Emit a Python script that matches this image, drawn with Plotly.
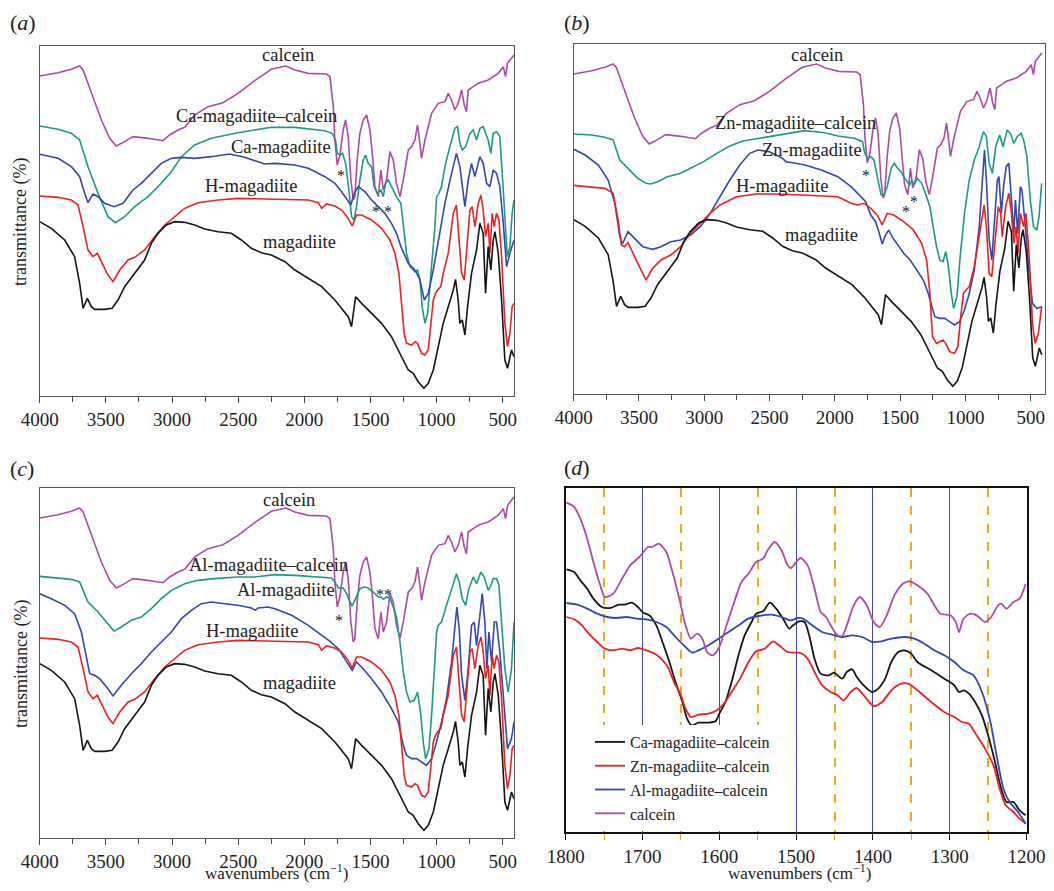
import plotly.graph_objects as go

# The page body has an 8 px margin; the figure is sized so it fits the 1054x891 window.
PAGE_W, PAGE_H, BODY = 1054, 891, 8
W, H = PAGE_W - 2 * BODY, PAGE_H - 2 * BODY
SERIF = "Liberation Serif, Times New Roman, serif"

# ---------------- Data (transmittance in arbitrary units) ----------------
# Reference spectra (same in panels a, b, c)
CALCEIN_WN = [4000, 3861, 3761, 3698, 3672, 3610, 3534, 3471, 3421, 3358, 3295, 3181, 3068, 3018, 2955, 2904,
              2829, 2728, 2615, 2501, 2375, 2249, 2140, 2071, 1970, 1832, 1806, 1781, 1769, 1751, 1731, 1706,
              1688, 1668, 1648, 1630, 1618, 1600, 1580, 1555, 1529, 1504, 1486, 1466, 1441, 1421, 1403, 1378,
              1353, 1328, 1303, 1277, 1252, 1214, 1189, 1164, 1144, 1126, 1114, 1088, 1038, 988, 937, 912,
              887, 862, 837, 811, 791, 774, 761, 723, 685, 610, 534, 496, 479, 464, 429, 415]
CALCEIN_T = [960, 970, 980, 990, 978, 908, 828, 773, 750, 763, 778, 773, 766, 783, 798, 806,
             843, 868, 880, 908, 946, 980, 990, 978, 968, 966, 958, 868, 768, 693, 723, 798,
             828, 778, 648, 588, 598, 708, 788, 828, 843, 798, 728, 628, 598, 678, 618, 648,
             733, 708, 638, 598, 648, 738, 748, 768, 813, 758, 713, 768, 848, 878, 883, 908,
             888, 858, 878, 918, 873, 853, 918, 928, 938, 948, 968, 988, 958, 998, 1018, 1023]

MAG_WN = [4000, 3912, 3811, 3736, 3698, 3672, 3640, 3610, 3584, 3509, 3453, 3408, 3358, 3282, 3207, 3156,
          3106, 3043, 2980, 2904, 2829, 2753, 2652, 2552, 2476, 2400, 2325, 2249, 2146, 2071, 1970, 1869,
          1769, 1706, 1668, 1643, 1623, 1612, 1567, 1492, 1416, 1341, 1277, 1240, 1214, 1177, 1139, 1096,
          1063, 1025, 988, 950, 912, 874, 857, 837, 824, 806, 786, 766, 736, 698, 673, 648,
          630, 610, 590, 572, 559, 534, 509, 484, 464, 434, 415]
MAG_T = [523, 503, 468, 418, 338, 263, 293, 268, 260, 260, 263, 288, 328, 368, 408, 458,
         488, 513, 523, 521, 513, 501, 493, 488, 468, 443, 430, 423, 403, 378, 353, 328,
         288, 258, 238, 208, 268, 298, 278, 248, 218, 178, 128, 98, 78, 68, 43, 23,
         38, 78, 148, 218, 268, 318, 350, 288, 218, 228, 183, 268, 368, 438, 518, 488,
         308, 448, 378, 468, 493, 428, 288, 108, 83, 138, 118]

HMAG_WN = [4000, 3861, 3761, 3710, 3672, 3635, 3597, 3564, 3534, 3484, 3446, 3395, 3332, 3282, 3207, 3131,
           3055, 2980, 2904, 2804, 2652, 2501, 2249, 1970, 1894, 1869, 1832, 1769, 1718, 1668, 1638, 1605,
           1567, 1492, 1416, 1353, 1315, 1285, 1265, 1245, 1227, 1189, 1164, 1144, 1114, 1088, 1063, 1043,
           1025, 1008, 993, 968, 950, 912, 874, 850, 832, 811, 791, 774, 748, 731, 711, 685,
           665, 648, 630, 610, 597, 580, 565, 547, 529, 509, 484, 464, 446, 429, 415]
HMAG_T = [600, 596, 588, 573, 508, 438, 418, 428, 403, 363, 343, 378, 408, 416, 438, 478,
          513, 538, 563, 580, 588, 593, 590, 588, 580, 563, 576, 570, 558, 533, 510, 543,
          543, 528, 503, 468, 428, 368, 278, 188, 158, 153, 163, 158, 128, 123, 138, 218,
          288, 308, 318, 328, 368, 428, 548, 573, 488, 368, 348, 428, 558, 568, 508, 578,
          603, 558, 478, 518, 428, 548, 508, 548, 528, 418, 218, 148, 188, 268, 278]

# Panel (a)
CA_CAL_WN = [4000, 3861, 3761, 3698, 3635, 3559, 3484, 3428, 3358, 3282, 3181, 3081, 3005, 2929, 2829, 2703,
             2501, 2249, 2071, 1844, 1789, 1764, 1751, 1731, 1711, 1688, 1663, 1643, 1625, 1605, 1580, 1555,
             1537, 1517, 1492, 1472, 1446, 1421, 1403, 1386, 1366, 1341, 1303, 1270, 1252, 1227, 1202, 1164,
             1144, 1126, 1109, 1088, 1068, 1043, 1013, 1000, 983, 963, 937, 900, 862, 842, 824, 806,
             781, 748, 723, 698, 673, 648, 610, 590, 572, 547, 522, 496, 466, 446, 429, 415]
CA_CAL_T = [810, 800, 788, 768, 688, 608, 538, 520, 538, 568, 598, 638, 673, 718, 753, 773,
            790, 806, 806, 796, 788, 768, 728, 723, 728, 698, 618, 538, 528, 568, 648, 708,
            723, 698, 688, 628, 608, 618, 598, 638, 648, 628, 598, 578, 508, 428, 388, 373,
            378, 348, 268, 218, 248, 368, 508, 598, 608, 628, 688, 748, 803, 808, 758, 738,
            748, 788, 798, 768, 803, 808, 768, 728, 788, 793, 778, 618, 418, 448, 548, 588]

CA_MAG_WN = [4000, 3861, 3761, 3698, 3660, 3635, 3597, 3559, 3509, 3438, 3370, 3295, 3232, 3156, 3081, 3005,
             2929, 2829, 2703, 2564, 2451, 2300, 2222, 2071, 1970, 1844, 1769, 1718, 1680, 1648, 1623, 1592,
             1542, 1492, 1441, 1391, 1341, 1303, 1270, 1240, 1214, 1164, 1126, 1093, 1063, 1025, 988, 937,
             887, 850, 824, 786, 761, 736, 711, 673, 648, 622, 597, 572, 547, 522, 496, 471, 446, 415]
CA_MAG_T = [725, 713, 688, 658, 608, 580, 606, 598, 578, 568, 578, 618, 638, 668, 698, 713,
            716, 713, 718, 726, 716, 696, 698, 693, 683, 658, 638, 613, 593, 573, 608, 628,
            613, 588, 568, 548, 518, 488, 448, 418, 398, 378, 348, 288, 308, 378, 458, 578,
            668, 728, 688, 568, 648, 698, 658, 718, 698, 638, 628, 678, 668, 628, 518, 388, 428, 468]

# Panel (b)
HMAG_B_WN = [4000, 3861, 3761, 3698, 3660, 3635, 3610, 3584, 3559, 3509, 3446, 3395, 3332, 3257, 3181, 3106,
             3030, 2955, 2879, 2753, 2602, 2451, 2249, 1977, 1876, 1826, 1776, 1725, 1675, 1637, 1599, 1549,
             1473, 1398, 1335, 1297, 1272, 1252, 1221, 1171, 1151, 1121, 1083, 1058, 1033, 1015, 995, 970,
             932, 894, 856, 839, 818, 798, 773, 748, 730, 718, 692, 667, 647, 629, 612, 597,
             579, 554, 536, 511, 486, 466, 441, 416]
HMAG_B_T = [626, 622, 617, 602, 522, 447, 442, 454, 432, 392, 342, 377, 402, 417, 442, 482,
            512, 542, 567, 592, 600, 600, 597, 592, 572, 567, 572, 557, 537, 507, 542, 537,
            517, 492, 452, 402, 302, 172, 152, 162, 152, 127, 122, 142, 242, 302, 312, 322,
            382, 482, 567, 502, 362, 352, 462, 562, 542, 472, 562, 602, 542, 452, 502, 422,
            542, 502, 542, 412, 212, 152, 182, 262]

ZN_CAL_WN = [4000, 3861, 3761, 3698, 3647, 3584, 3509, 3446, 3408, 3358, 3282, 3181, 3081, 3005, 2904, 2804,
             2703, 2552, 2375, 2229, 2078, 1977, 1851, 1788, 1771, 1750, 1725, 1700, 1670, 1645, 1624, 1599,
             1569, 1544, 1519, 1494, 1473, 1448, 1428, 1410, 1393, 1368, 1335, 1297, 1272, 1247, 1221, 1196,
             1171, 1151, 1133, 1108, 1090, 1065, 1040, 1007, 970, 932, 894, 862, 839, 818, 793, 768,
             738, 712, 680, 655, 629, 604, 574, 554, 529, 503, 478, 453, 436, 416]
ZN_CAL_T = [780, 777, 770, 762, 702, 677, 647, 632, 630, 637, 652, 662, 682, 697, 722, 744,
            759, 769, 780, 790, 784, 774, 767, 757, 722, 707, 712, 702, 642, 597, 597, 622,
            677, 692, 677, 667, 652, 637, 627, 642, 627, 647, 632, 592, 562, 502, 442, 402,
            397, 427, 392, 302, 257, 292, 412, 542, 642, 702, 742, 787, 772, 692, 662, 742,
            777, 742, 792, 782, 752, 772, 782, 762, 712, 582, 502, 492, 532, 632]

ZN_MAG_WN = [4000, 3912, 3811, 3736, 3685, 3647, 3627, 3584, 3534, 3471, 3395, 3332, 3257, 3181, 3106, 3030,
             2955, 2879, 2804, 2728, 2652, 2589, 2501, 2400, 2375, 2300, 2229, 2103, 1977, 1876, 1813, 1763,
             1725, 1688, 1663, 1637, 1612, 1587, 1562, 1524, 1473, 1423, 1373, 1322, 1285, 1259, 1234, 1196,
             1158, 1121, 1083, 1045, 1007, 970, 932, 894, 869, 854, 839, 818, 798, 780, 755, 743,
             725, 705, 687, 667, 647, 629, 617, 599, 579, 567, 541, 516, 486, 453, 416]
ZN_MAG_T = [734, 717, 687, 642, 572, 472, 450, 487, 467, 442, 434, 442, 457, 462, 477, 502,
            542, 592, 642, 687, 722, 732, 727, 707, 697, 692, 687, 672, 652, 622, 597, 577,
            537, 517, 487, 450, 477, 492, 472, 452, 422, 402, 372, 342, 302, 262, 232, 227,
            227, 217, 207, 217, 252, 302, 372, 502, 662, 732, 642, 462, 402, 502, 642, 652,
            542, 632, 682, 692, 582, 482, 582, 482, 622, 612, 502, 382, 272, 257, 262]

# Panel (c)
AL_CAL_WN = [4000, 3861, 3761, 3698, 3635, 3559, 3484, 3438, 3383, 3307, 3232, 3156, 3081, 3005, 2904, 2804,
             2678, 2501, 2375, 2222, 2071, 1920, 1794, 1769, 1743, 1706, 1680, 1655, 1638, 1612, 1580, 1547,
             1517, 1479, 1441, 1421, 1403, 1378, 1353, 1328, 1303, 1277, 1252, 1227, 1202, 1169, 1144, 1119,
             1101, 1083, 1058, 1038, 1018, 1000, 988, 963, 925, 887, 850, 829, 806, 781, 756, 723,
             698, 665, 640, 610, 590, 572, 547, 529, 509, 484, 459, 434, 415]
AL_CAL_T = [785, 780, 776, 768, 708, 678, 643, 620, 633, 653, 663, 688, 718, 743, 763, 773,
            778, 783, 783, 790, 788, 783, 780, 768, 750, 750, 733, 708, 696, 718, 748, 753,
            750, 738, 723, 723, 716, 723, 720, 693, 663, 588, 498, 438, 408, 413, 438, 368,
            288, 238, 268, 368, 508, 618, 638, 648, 698, 748, 793, 768, 718, 698, 748, 783,
            763, 798, 783, 743, 758, 778, 778, 758, 648, 508, 438, 508, 648]

AL_MAG_WN = [4000, 3912, 3811, 3736, 3685, 3647, 3622, 3584, 3547, 3484, 3446, 3383, 3307, 3232, 3156, 3081,
             3005, 2929, 2854, 2778, 2703, 2602, 2501, 2400, 2370, 2350, 2274, 2222, 2096, 1970, 1869, 1806,
             1743, 1693, 1655, 1638, 1605, 1555, 1492, 1416, 1341, 1290, 1252, 1227, 1189, 1151, 1114, 1076,
             1038, 1000, 963, 925, 887, 862, 847, 829, 811, 786, 761, 736, 716, 698, 673, 655,
             635, 620, 605, 585, 564, 547, 522, 496, 464, 434, 415]
AL_MAG_T = [733, 718, 698, 673, 618, 538, 493, 488, 478, 448, 426, 458, 493, 523, 558, 588,
            618, 658, 683, 703, 708, 703, 698, 690, 683, 690, 693, 688, 668, 638, 608, 590,
            568, 538, 513, 503, 528, 508, 478, 438, 388, 348, 278, 248, 238, 238, 228, 218,
            238, 288, 348, 418, 528, 648, 693, 628, 488, 413, 508, 638, 648, 578, 668, 733,
            648, 508, 618, 528, 648, 648, 558, 418, 268, 298, 348]

# Panel (d) – 1800-1200 cm-1 region
D_CAL_WN = [1799, 1789, 1781, 1772, 1764, 1755, 1749, 1738, 1729, 1716, 1704, 1693, 1687, 1679, 1669, 1661,
            1652, 1644, 1637, 1629, 1622, 1616, 1609, 1601, 1592, 1582, 1571, 1562, 1552, 1543, 1537, 1528,
            1519, 1511, 1507, 1498, 1494, 1485, 1476, 1468, 1461, 1455, 1446, 1440, 1434, 1425, 1417, 1408,
            1399, 1391, 1382, 1372, 1361, 1352, 1342, 1329, 1320, 1312, 1299, 1292, 1288, 1282, 1273, 1265,
            1254, 1246, 1237, 1233, 1226, 1217, 1209, 1201]
D_CAL_T = [988, 975, 940, 880, 810, 740, 705, 715, 750, 800, 825, 855, 855, 865, 840, 780,
           700, 620, 580, 595, 580, 540, 530, 550, 610, 680, 750, 775, 810, 820, 845, 870,
           845, 800, 792, 815, 822, 800, 730, 660, 645, 620, 590, 588, 620, 680, 705, 680,
           630, 615, 650, 710, 745, 752, 740, 715, 680, 655, 650, 630, 600, 640, 655, 650,
           630, 645, 680, 685, 670, 690, 700, 745]

D_CA_WN = [1799, 1789, 1781, 1772, 1764, 1753, 1742, 1731, 1723, 1714, 1706, 1699, 1691, 1682, 1674, 1665,
           1657, 1648, 1642, 1636, 1627, 1614, 1605, 1600, 1592, 1584, 1575, 1567, 1558, 1552, 1543, 1534,
           1526, 1517, 1509, 1504, 1496, 1489, 1483, 1476, 1468, 1457, 1451, 1440, 1434, 1427, 1421, 1412,
           1401, 1393, 1384, 1376, 1367, 1359, 1350, 1342, 1324, 1307, 1294, 1288, 1282, 1275, 1267, 1258,
           1250, 1241, 1233, 1226, 1217, 1209, 1201]
D_CA_T = [788, 780, 755, 730, 700, 675, 672, 682, 682, 688, 675, 658, 650, 620, 570, 510,
          450, 390, 340, 320, 328, 328, 332, 355, 390, 450, 530, 590, 630, 655, 662, 688,
          670, 640, 610, 620, 632, 630, 590, 520, 475, 470, 478, 460, 480, 488, 465, 440,
          420, 430, 460, 510, 540, 545, 535, 510, 485, 460, 440, 420, 425, 415, 390, 350,
          290, 210, 130, 90, 90, 65, 50]

D_ZN_WN = [1799, 1789, 1781, 1770, 1759, 1749, 1738, 1727, 1716, 1706, 1695, 1684, 1676, 1667, 1659, 1650,
           1644, 1637, 1627, 1614, 1603, 1594, 1584, 1573, 1562, 1552, 1541, 1530, 1522, 1511, 1498, 1494,
           1485, 1476, 1466, 1455, 1446, 1438, 1429, 1421, 1412, 1399, 1388, 1376, 1363, 1354, 1342, 1324,
           1307, 1294, 1284, 1275, 1265, 1254, 1243, 1235, 1227, 1217, 1209, 1201]
D_ZN_T = [645, 638, 625, 595, 570, 550, 545, 550, 545, 552, 545, 535, 520, 495, 450, 410,
          370, 345, 352, 355, 365, 385, 420, 460, 510, 542, 550, 572, 560, 540, 538, 537,
          520, 480, 440, 420, 410, 395, 420, 432, 410, 378, 390, 425, 445, 445, 425, 390,
          360, 345, 330, 325, 290, 250, 200, 130, 80, 60, 40, 25]

D_AL_WN = [1799, 1785, 1772, 1759, 1746, 1734, 1721, 1708, 1695, 1682, 1669, 1657, 1644, 1635, 1627, 1614,
           1601, 1588, 1575, 1562, 1549, 1532, 1519, 1507, 1498, 1491, 1479, 1466, 1453, 1440, 1427, 1414,
           1401, 1389, 1376, 1359, 1346, 1333, 1320, 1307, 1294, 1282, 1269, 1258, 1247, 1239, 1230, 1222,
           1211, 1201]
D_AL_T = [687, 682, 670, 655, 645, 642, 645, 640, 638, 630, 615, 585, 555, 538, 545, 560,
          580, 600, 620, 640, 648, 652, 645, 635, 642, 640, 620, 600, 592, 585, 590, 585,
          570, 572, 580, 585, 580, 565, 545, 530, 510, 485, 470, 420, 330, 230, 130, 90,
          60, 25]

# ---------------- Colours ----------------
C_CAL = "#B04AA8"
C_TEAL = "#1B9A8A"
C_BLUE = "#3347B0"
C_RED = "#EE2020"
C_BLACK = "#151515"

fig = go.Figure()


def add(wn, t, color, ax, name=None, legend=False, width=1.6, shape="linear"):
    fig.add_trace(go.Scatter(
        x=wn, y=t, mode="lines", name=name, showlegend=legend,
        line=dict(color=color, width=width, shape=shape, smoothing=0.7 if shape == "spline" else None),
        xaxis="x" + ("" if ax == 1 else str(ax)), yaxis="y" + ("" if ax == 1 else str(ax)),
        hoverinfo="skip"))


# Panel a
add(CALCEIN_WN, CALCEIN_T, C_CAL, 1)
add(CA_CAL_WN, CA_CAL_T, C_TEAL, 1)
add(CA_MAG_WN, CA_MAG_T, C_BLUE, 1)
add(HMAG_WN, HMAG_T, C_RED, 1)
add(MAG_WN, MAG_T, C_BLACK, 1)
# Panel b
add(CALCEIN_WN, CALCEIN_T, C_CAL, 2)
add(ZN_CAL_WN, ZN_CAL_T, C_TEAL, 2)
add(ZN_MAG_WN, ZN_MAG_T, C_BLUE, 2)
add(HMAG_B_WN, HMAG_B_T, C_RED, 2)
add(MAG_WN, MAG_T, C_BLACK, 2)
# Panel c
add(CALCEIN_WN, CALCEIN_T, C_CAL, 3)
add(AL_CAL_WN, AL_CAL_T, C_TEAL, 3)
add(AL_MAG_WN, AL_MAG_T, C_BLUE, 3)
add(HMAG_WN, HMAG_T, C_RED, 3)
add(MAG_WN, MAG_T, C_BLACK, 3)
# Panel d
add(D_CA_WN, D_CA_T, C_BLACK, 4, "Ca-magadiite–calcein", True, 1.8, "spline")
add(D_ZN_WN, D_ZN_T, C_RED, 4, "Zn-magadiite–calcein", True, 1.8, "spline")
add(D_AL_WN, D_AL_T, C_BLUE, 4, "Al-magadiite–calcein", True, 1.8, "spline")
add(D_CAL_WN, D_CAL_T, C_CAL, 4, "calcein", True, 1.8, "spline")


# page-pixel -> paper fraction helpers (page pixels include the 8 px body margin)
def fx(X):
    return (X - BODY) / W


def fy(Y):
    return 1 - (Y - BODY) / H


tickfont = dict(family=SERIF, size=19, color="#222")


def full_x(domain, anchor, end):
    return dict(domain=domain, anchor=anchor, range=[4000, end], tick0=0, dtick=500,
                ticks="outside", ticklen=6, tickcolor="#444", tickwidth=1,
                minor=dict(dtick=250, ticks="outside", ticklen=5, tickcolor="#444"),
                showline=True, linecolor="#555", linewidth=1.2, mirror=True,
                showgrid=False, zeroline=False, tickfont=tickfont, automargin=False,
                ticklabeloverflow="allow")


def full_y(domain, anchor, top):
    return dict(domain=domain, anchor=anchor, range=[0, top], showticklabels=False, ticks="",
                showline=True, linecolor="#555", linewidth=1.2, mirror=True,
                showgrid=False, zeroline=False, automargin=False)


layout = dict(
    width=W, height=H, margin=dict(l=0, r=0, t=0, b=0, pad=0, autoexpand=False),
    paper_bgcolor="white", plot_bgcolor="white",
    font=dict(family=SERIF, size=18, color="#222"),
    xaxis=full_x([fx(39.7), fx(514)], "y", 415),
    yaxis=full_y([fy(396), fy(46)], "x", 1050),
    xaxis2=full_x([fx(573.7), fx(1045.3)], "y2", 388),
    yaxis2=full_y([fy(394), fy(44)], "x2", 1050),
    xaxis3=full_x([fx(39.7), fx(514)], "y3", 415),
    yaxis3=full_y([fy(838), fy(488)], "x3", 1050),
    xaxis4=dict(domain=[fx(565.7), fx(1026.5)], anchor="y4", range=[1800, 1200], tick0=0, dtick=100,
                ticks="outside", ticklen=6, tickcolor="#111",
                showgrid=True, gridcolor="#3B4DB8", gridwidth=1,
                minor=dict(dtick=50, ticks="outside", ticklen=6, tickcolor="#F5A623",
                           showgrid=True, gridcolor="#F5A623", griddash="dash", gridwidth=1.5),
                showline=True, linecolor="#111", linewidth=1.5, mirror=True,
                zeroline=False, tickfont=tickfont, automargin=False, ticklabeloverflow="allow"),
    yaxis4=dict(domain=[fy(832), fy(488)], anchor="x4", range=[0, 1032], showticklabels=False, ticks="",
                showline=True, linecolor="#111", linewidth=1.5, mirror=True,
                showgrid=False, zeroline=False, automargin=False),
    legend=dict(x=fx(590), y=fy(725), xanchor="left", yanchor="top", bgcolor="white",
                font=dict(family=SERIF, size=16, color="#222"), tracegroupgap=0, borderwidth=0,
                entrywidth=180, entrywidthmode="pixels"),
    showlegend=True,
)
fig.update_layout(**layout)

# Curve labels (text, wavenumber, transmittance, panel)
LABELS = [
    ("calcein", 2124, 1023, 1), ("Ca-magadiite–calcein", 2365, 840, 1), ("Ca-magadiite", 2176, 747, 1),
    ("H-magadiite", 2403, 630, 1), ("magadiite", 2033, 462, 1), ("*", 1722, 662, 1), ("* *", 1412, 552, 1),
    ("calcein", 2134, 1017, 2), ("Zn-magadiite–calcein", 2305, 813, 2), ("Zn-magadiite", 2176, 732, 2),
    ("H-magadiite", 2407, 624, 2), ("magadiite", 2100, 477, 2), ("*", 1760, 656, 2), ("*", 1458, 548, 2),
    ("*", 1390, 578, 2),
    ("calcein", 2116, 1015, 3), ("Al-magadiite–calcein", 2274, 819, 3), ("Al-magadiite", 2142, 744, 3),
    ("H-magadiite", 2392, 621, 3), ("magadiite", 2033, 465, 3), ("*", 1738, 652, 3), ("**", 1397, 732, 3),
]
for text, wn, t, p in LABELS:
    sfx = "" if p == 1 else str(p)
    fig.add_annotation(x=wn, y=t, xref="x" + sfx, yref="y" + sfx, text=text, showarrow=False,
                       xanchor="center", yanchor="middle",
                       font=dict(family=SERIF, size=18.5 if text.strip("* ") else 16, color="#222"))

# Panel letters
for letter, xp, yp in [("a", 23, 23), ("b", 577, 23), ("c", 22, 468), ("d", 577, 467)]:
    fig.add_annotation(x=fx(xp), y=fy(yp), xref="paper", yref="paper", showarrow=False,
                       xanchor="center", yanchor="middle",
                       text="(<i>%s</i>)" % letter, font=dict(family=SERIF, size=22, color="#222"))

# Axis titles
for yp in (222, 664):
    fig.add_annotation(x=fx(21), y=fy(yp), xref="paper", yref="paper", showarrow=False,
                       xanchor="center", yanchor="middle",
                       text="transmittance (%)", textangle=-90,
                       font=dict(family=SERIF, size=18, color="#222"))
for xp in (277, 799):
    fig.add_annotation(x=fx(xp), y=0, xref="paper", yref="paper", showarrow=False,
                       xanchor="center", yanchor="bottom", yshift=-1, borderpad=0,
                       text="wavenumbers (cm<sup>−1</sup>)",
                       font=dict(family=SERIF, size=17, color="#222"))

fig.write_html("out.html")
